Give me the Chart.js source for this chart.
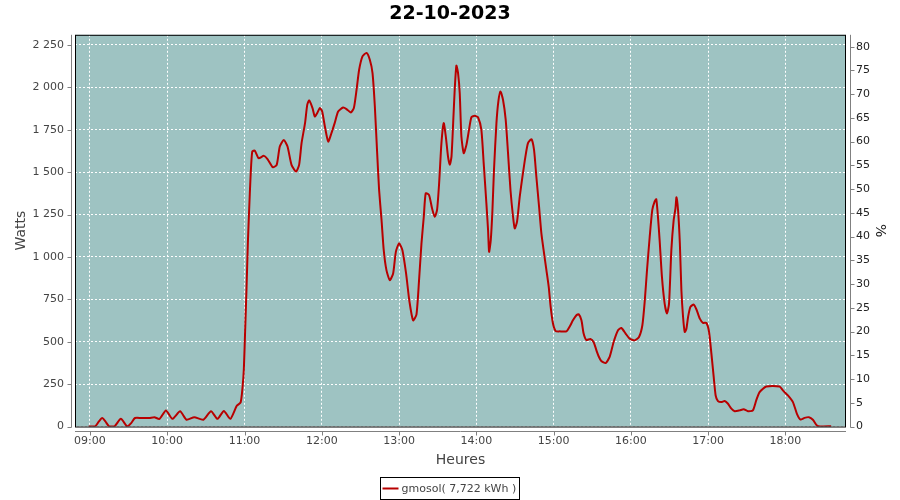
<!DOCTYPE html>
<html>
<head>
<meta charset="utf-8">
<title>22-10-2023</title>
<script src="https://cdn.jsdelivr.net/npm/chart.js@4.4.0/dist/chart.umd.min.js"></script>
<style>
    html, body { margin: 0; padding: 0; background: #fff; }
</style>
</head>
<body>
<canvas id="prodChart" width="900" height="500"></canvas>
<script>
// time of each reading, in minutes after 09:00
const minutes = [
    -1, 4, 7, 9.5, 12, 15, 19, 24, 29, 32, 35, 40, 46, 50, 54, 59, 64, 70, 75, 81,
    88, 94, 99, 104, 109, 114, 117, 118.5, 119.5, 120.5, 121.6, 122.6, 123.6, 124.7, 126, 128, 131, 135, 138, 142,
    145, 147.4, 150.5, 153.4, 156.5, 160, 162.4, 164.3, 167, 168.7, 170.2, 172.8, 174.6, 176.7, 178.5, 180.3, 182.4, 185, 187.5, 190,
    192.7, 196.6, 199.2, 202.5, 204.9, 207, 209, 211.6, 214.7, 217.3, 219.4, 221.2, 223, 224.5, 226.4, 228.1, 230.2, 232.8, 235.4, 237.5,
    240, 242.6, 245.5, 248, 250.9, 253.5, 255.5, 257.4, 259.2, 260.7, 263.3, 265.6, 267.7, 269.5, 271.1, 272.9, 274.7, 276.3, 278, 279.4,
    280.7, 282, 283.2, 284.5, 285.8, 287.1, 288.4, 290.2, 292.3, 294.3, 296.2, 298.8, 301.3, 303.9, 305.7, 307.8, 309.1, 309.9, 311.2, 312.5,
    313.7, 315.6, 317.1, 318.7, 320.7, 322.8, 324.6, 326.5, 328.5, 329.8, 331.6, 333.7, 335.8, 338.1, 340.1, 342.8, 344.8, 346.6, 348.7, 350.5,
    352.6, 354.4, 356.2, 357.7, 359.5, 361.6, 364.7, 369.9, 372.5, 375, 377.7, 379.5, 381.6, 383.3, 385.4, 388.5, 391, 393.7, 395.2, 397,
    400.4, 403.5, 406.6, 410, 412.6, 415.9, 419, 422.9, 426.3, 428.9, 430.7, 432.5, 434.6, 436.6, 438.4, 439.7, 441, 442.3, 444.1, 446.2,
    448, 449.6, 451.4, 453.2, 454.6, 455.4, 456.6, 458, 459.2, 460.5, 461.8, 463.1, 464.4, 466.2, 468.8, 470.9, 473.5, 476, 478.6, 480.7,
    482.5, 484.3, 485.8, 487.6, 490.2, 492.8, 495.4, 498, 500.6, 504.4, 507.5, 510.9, 514.7, 517.3, 519.9, 525.1, 535.4, 538, 541.9, 545.8,
    548.9, 551.7, 554.8, 558.2, 561.3, 564.4, 567, 575.5
];
const watts = [
    0, 0, 30, 50, 30, 0, 0, 45, 0, 20, 50, 50, 50, 55, 45, 95, 45, 90, 40, 55,
    40, 90, 45, 92, 45, 122, 142, 232, 340, 567, 823, 1080, 1277, 1473, 1621, 1627, 1582, 1596, 1576, 1529,
    1543, 1651, 1690, 1651, 1543, 1503, 1543, 1671, 1789, 1897, 1923, 1878, 1828, 1852, 1878, 1858, 1769, 1680, 1730, 1789,
    1858, 1881, 1872, 1852, 1878, 1986, 2104, 2183, 2203, 2163, 2084, 1887, 1612, 1395, 1217, 1040, 922, 863, 902, 1030,
    1080, 1040, 900, 740, 626, 660, 860, 1080, 1237, 1375, 1365, 1287, 1237, 1277, 1434, 1671, 1789, 1710, 1592, 1543,
    1592, 1789, 1986, 2128, 2084, 1966, 1710, 1612, 1661, 1749, 1824, 1832, 1824, 1749, 1553, 1316, 1158, 1030, 1099, 1277,
    1513, 1789, 1917, 1976, 1927, 1808, 1612, 1395, 1237, 1168, 1208, 1355, 1473, 1592, 1671, 1694, 1631, 1473, 1296, 1139,
    1020, 922, 823, 705, 607, 563, 561, 561, 590, 626, 656, 662, 626, 548, 510, 516, 498, 439, 410, 386,
    374, 410, 498, 567, 581, 548, 518, 508, 528, 597, 735, 922, 1119, 1277, 1326, 1340, 1237, 1099, 882, 725,
    666, 725, 1040, 1217, 1287, 1352, 1277, 1080, 804, 646, 557, 577, 646, 705, 719, 690, 636, 611, 611, 557,
    430, 291, 183, 150, 144, 150, 134, 105, 90, 95, 102, 90, 95, 154, 203, 236, 236, 213, 183, 144,
    75, 41, 51, 55, 40, 6, 0, 2
];
const hourTicks = [0, 60, 120, 180, 240, 300, 360, 420, 480, 540];
const wattTicks = [0, 250, 500, 750, 1000, 1250, 1500, 1750, 2000, 2250];
const percentTicks = [0, 5, 10, 15, 20, 25, 30, 35, 40, 45, 50, 55, 60, 65, 70, 75, 80];
const seriesName = 'gmosol( 7,722 kWh )';
const peakWatts = 2800;   // the % axis is relative to this
const wattsMax = 2310;

const points = minutes.map((m, i) => ({ x: m, y: watts[i] }));

function hhmm(m) {
    const h = 9 + Math.floor(m / 60);
    const mm = m % 60;
    return String(h).padStart(2, '0') + ':' + String(mm).padStart(2, '0');
}

function spaced(v) {
    return String(v).replace(/\B(?=(\d{3})+(?!\d))/g, ' ');
}

function fixedTicks(list) {
    return axis => { axis.ticks = list.map(v => ({ value: v })); };
}

// plot background, frame, offset axis lines and the boxed legend
const plotFrame = {
    id: 'plotFrame',
    beforeDraw(chart) {
        const { ctx, chartArea: a } = chart;
        ctx.save();
        ctx.fillStyle = '#9ec3c2';
        ctx.fillRect(a.left, a.top, a.right - a.left, a.bottom - a.top);
        ctx.restore();
    },
    afterDraw(chart) {
        const { ctx, chartArea: a, scales } = chart;
        ctx.save();
        ctx.lineWidth = 1;

        // black frame round the plot
        ctx.strokeStyle = '#000';
        ctx.strokeRect(a.left + 0.5, a.top + 0.5, a.right - a.left - 1, a.bottom - a.top);

        // grey axis lines, set 4px away from the plot
        ctx.strokeStyle = '#808080';
        const lx = Math.round(a.left) - 3.5;
        const rx = Math.round(a.right) + 4.5;
        const by = Math.round(a.bottom) + 4.5;
        ctx.beginPath();
        ctx.moveTo(lx, a.top); ctx.lineTo(lx, a.bottom + 1);
        ctx.moveTo(rx, a.top); ctx.lineTo(rx, a.bottom + 1);
        ctx.moveTo(a.left, by); ctx.lineTo(a.right, by);
        scales.y.ticks.forEach(t => {
            const py = Math.round(scales.y.getPixelForValue(t.value)) + 0.5;
            ctx.moveTo(lx - 4, py); ctx.lineTo(lx, py);
        });
        scales.y2.ticks.forEach(t => {
            const py = Math.round(scales.y2.getPixelForValue(t.value)) + 0.5;
            ctx.moveTo(rx, py); ctx.lineTo(rx + 4, py);
        });
        scales.x.ticks.forEach(t => {
            const px = Math.round(scales.x.getPixelForValue(t.value)) + 0.5;
            ctx.moveTo(px, by); ctx.lineTo(px, by + 4);
        });
        ctx.stroke();

        // legend box
        const ds = chart.data.datasets[0];
        ctx.font = '11px "DejaVu Sans"';
        const tw = ctx.measureText(ds.label).width;
        const boxW = Math.round(tw + 24);
        const bx = Math.round(449 - boxW / 2) + 0.5;
        const bTop = 477.5;
        const bH = 22;
        ctx.strokeStyle = '#000';
        ctx.strokeRect(bx, bTop, boxW, bH);
        ctx.strokeStyle = ds.borderColor;
        ctx.lineWidth = 2;
        ctx.beginPath();
        ctx.moveTo(bx + 2, bTop + 11); ctx.lineTo(bx + 18, bTop + 11);
        ctx.stroke();
        ctx.fillStyle = '#444';
        ctx.textBaseline = 'middle';
        ctx.textAlign = 'left';
        ctx.fillText(ds.label, bx + 21, bTop + 11.5);
        ctx.restore();
    }
};

Chart.defaults.font.family = '"DejaVu Sans", Verdana, sans-serif';

const ctx = document.getElementById('prodChart').getContext('2d');
const prodChart = new Chart(ctx, {
    type: 'line',
    data: {
        datasets: [{
            label: seriesName,
            data: points,
            borderColor: '#b80000',
            borderWidth: 2,
            pointRadius: 0,
            tension: 0.2,
            fill: false
        }]
    },
    options: {
        responsive: false,
        animation: false,
        layout: { padding: 0 },
        plugins: {
            legend: { display: false },
            tooltip: { enabled: false },
            title: {
                display: true,
                text: '22-10-2023',
                color: '#000',
                font: { size: 19, weight: 'bold' },
                padding: { top: 3, bottom: 9 }
            }
        },
        scales: {
            x: {
                type: 'linear',
                min: -11.6,
                max: 587,
                afterBuildTicks: fixedTicks(hourTicks),
                afterFit: axis => { axis.height = 73.5; },
                ticks: {
                    autoSkip: false,
                    maxRotation: 0,
                    padding: 8,
                    color: '#444',
                    font: { size: 11 },
                    callback: v => hhmm(v)
                },
                grid: {
                    color: '#ffffff',
                    drawTicks: false
                },
                border: { display: false, dash: [2, 2] },
                title: {
                    display: true,
                    text: 'Heures',
                    color: '#444',
                    font: { size: 14 },
                    padding: { top: 0, bottom: 31.6 }
                }
            },
            y: {
                position: 'left',
                min: 0,
                max: wattsMax,
                afterBuildTicks: fixedTicks(wattTicks),
                afterFit: axis => { axis.width = 75; },
                ticks: {
                    autoSkip: false,
                    padding: 11,
                    color: '#444',
                    font: { size: 11 },
                    callback: v => spaced(v)
                },
                grid: {
                    color: '#ffffff',
                    drawTicks: false
                },
                border: { display: false, dash: [2, 2] },
                title: {
                    display: true,
                    text: 'Watts',
                    color: '#444',
                    font: { size: 14 },
                    padding: { top: 12.6, bottom: 0 }
                }
            },
            y2: {
                position: 'right',
                min: 0,
                max: wattsMax / peakWatts * 100,
                afterBuildTicks: fixedTicks(percentTicks),
                afterFit: axis => { axis.width = 54; },
                ticks: {
                    autoSkip: false,
                    padding: 10,
                    color: '#222',
                    font: { size: 11 }
                },
                grid: {
                    drawOnChartArea: false,
                    drawTicks: false
                },
                border: { display: false },
                title: {
                    display: true,
                    text: '%',
                    color: '#222',
                    font: { size: 14 },
                    padding: { top: 11.6, bottom: 0 }
                }
            }
        }
    },
    plugins: [plotFrame]
});
</script>
</body>
</html>
